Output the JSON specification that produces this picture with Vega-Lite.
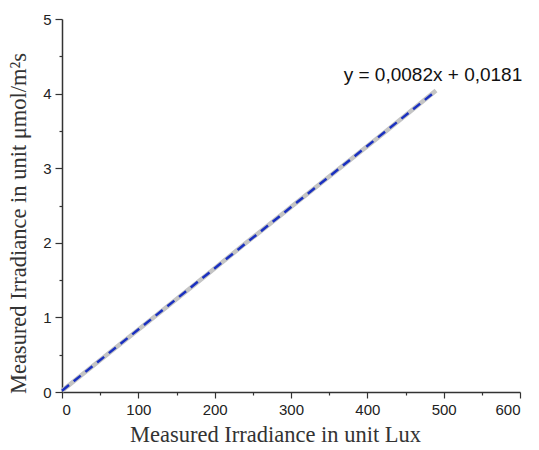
{
  "$schema": "https://vega.github.io/schema/vega-lite/v6.json",
  "width": 458,
  "height": 373,
  "autosize": "none",
  "padding": {"left": 62, "top": 19, "right": 19, "bottom": 58},
  "background": "white",
  "config": {
    "view": {"stroke": null},
    "axis": {
      "grid": false,
      "domainColor": "#333333",
      "domainWidth": 1.5,
      "tickColor": "#333333",
      "tickWidth": 1.2,
      "labelFont": "Liberation Sans",
      "labelFontSize": 15,
      "labelColor": "#222222",
      "titleFont": "Liberation Serif",
      "titleFontSize": 22.5,
      "titleFontWeight": "normal",
      "titleColor": "#333333"
    }
  },
  "datasets": {
    "measured": [
      {"lux": 0, "irr": 0.018},
      {"lux": 60, "irr": 0.51},
      {"lux": 120, "irr": 1.0},
      {"lux": 180, "irr": 1.49},
      {"lux": 240, "irr": 1.99},
      {"lux": 300, "irr": 2.48},
      {"lux": 360, "irr": 2.97},
      {"lux": 420, "irr": 3.46},
      {"lux": 490, "irr": 4.04}
    ],
    "fit": [
      {"lux": 0, "irr": 0.018},
      {"lux": 490, "irr": 4.036}
    ],
    "label": [
      {"lux": 486, "irr": 4.25, "text": "y = 0,0082x + 0,0181"}
    ]
  },
  "resolve": {"axis": {"x": "independent", "y": "independent"}},
  "layer": [
    {
      "data": {"name": "measured"},
      "mark": {"type": "line", "color": "#c4c4c4", "strokeWidth": 4.5},
      "encoding": {
        "x": {
          "field": "lux", "type": "quantitative",
          "scale": {"domain": [0, 600], "nice": false},
          "axis": {"values": [0, 100, 200, 300, 400, 500, 600], "tickSize": 6, "labelPadding": 4, "title": "Measured Irradiance in unit Lux", "titlePadding": 6, "titleX": 213}
        },
        "y": {
          "field": "irr", "type": "quantitative",
          "scale": {"domain": [0, 5], "nice": false},
          "axis": {"values": [0, 1, 2, 3, 4, 5], "tickSize": 7, "labelPadding": 4, "title": "Measured Irradiance in unit μmol/m²s", "titlePadding": 12, "titleY": 204}
        }
      }
    },
    {
      "data": {"name": "fit"},
      "mark": {"type": "line", "color": "#1a30c0", "strokeWidth": 2.5, "strokeDash": [9, 6]},
      "encoding": {
        "x": {
          "field": "lux", "type": "quantitative",
          "axis": {"orient": "bottom", "values": [50, 150, 250, 350, 450, 550], "tickSize": 3, "labels": false, "domain": false, "title": null}
        },
        "y": {
          "field": "irr", "type": "quantitative",
          "axis": {"orient": "left", "values": [0.5, 1.5, 2.5, 3.5, 4.5], "tickSize": 3, "labels": false, "domain": false, "title": null}
        }
      }
    },
    {
      "data": {"name": "label"},
      "mark": {"type": "text", "font": "Liberation Sans", "fontSize": 19, "color": "#111111", "align": "center", "baseline": "middle"},
      "encoding": {
        "x": {"field": "lux", "type": "quantitative", "axis": null},
        "y": {"field": "irr", "type": "quantitative", "axis": null},
        "text": {"field": "text"}
      }
    }
  ]
}
